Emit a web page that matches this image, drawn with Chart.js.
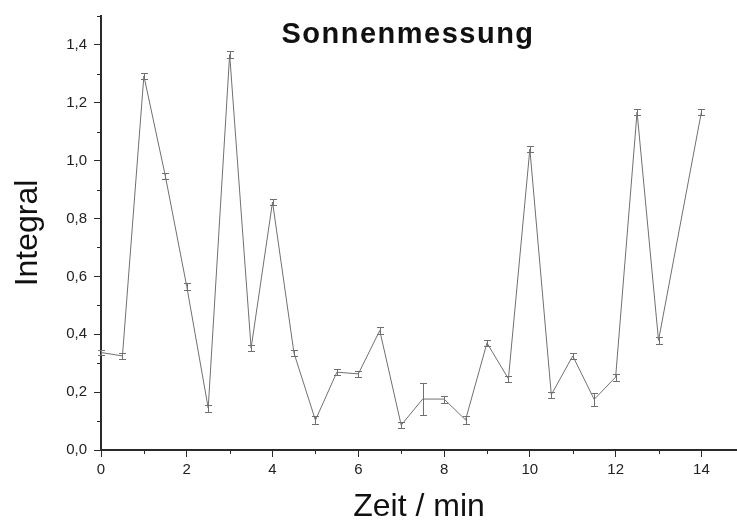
<!DOCTYPE html>
<html lang="de">
<head>
<meta charset="UTF-8" />
<title>Sonnenmessung</title>
<script src="https://cdn.jsdelivr.net/npm/chart.js@4"></script>
<style>
  body { margin: 0; background: #fff; }
  #wrap { width: 737px; height: 520px; }
</style>
</head>
<body>
<div id="wrap"><canvas id="myChart"></canvas></div>
<script>
// Zeit in min
const times = [0, 0.5, 1, 1.5, 2, 2.5, 3, 3.5, 4, 4.5, 5, 5.5, 6, 6.5, 7, 7.5,
  8, 8.5, 9, 9.5, 10, 10.5, 11, 11.5, 12, 12.5, 13, 14];
// Integral
const integral = [0.337, 0.325, 1.293, 0.947, 0.565, 0.145, 1.367, 0.352, 0.857, 0.335,
  0.103, 0.269, 0.263, 0.413, 0.086, 0.176, 0.176, 0.104, 0.370, 0.246,
  1.040, 0.191, 0.325, 0.175, 0.252, 1.168, 0.379, 1.168];
// Fehler (halbe Balkenlaenge)
const errors = [0.007, 0.011, 0.0115, 0.011, 0.012, 0.012, 0.0115, 0.010, 0.011, 0.010,
  0.013, 0.0115, 0.011, 0.011, 0.010, 0.055, 0.012, 0.014, 0.0115, 0.011,
  0.011, 0.011, 0.011, 0.023, 0.012, 0.011, 0.011, 0.011];

const xTicksMajor = [0, 2, 4, 6, 8, 10, 12, 14];
const yTicksMajor = ['0,0', '0,2', '0,4', '0,6', '0,8', '1,0', '1,2', '1,4'];

const FONT = "'Liberation Sans', Arial, sans-serif";
const AXIS = '#2a2a2a';
const LINE = '#707070';

const isMajorX = v => xTicksMajor.includes(Math.round(v));
const isMajorY = v => Math.round(v * 10) % 2 === 0;

// Fehlerbalken
const errorBars = {
  id: 'errorBars',
  afterDatasetsDraw(chart) {
    const { ctx, scales: { x, y } } = chart;
    ctx.save();
    ctx.strokeStyle = LINE;
    ctx.lineWidth = 1;
    times.forEach((t, i) => {
      const px = Math.round(x.getPixelForValue(t)) + 0.5;
      const top = Math.round(y.getPixelForValue(integral[i] + errors[i])) + 0.5;
      const bot = Math.round(y.getPixelForValue(integral[i] - errors[i])) + 0.5;
      ctx.beginPath();
      ctx.moveTo(px, top); ctx.lineTo(px, bot);
      ctx.moveTo(px - 3.5, top); ctx.lineTo(px + 3.5, top);
      ctx.moveTo(px - 3.5, bot); ctx.lineTo(px + 3.5, bot);
      ctx.stroke();
    });
    ctx.restore();
  }
};

// kleine Zwischenstriche + Titel im Diagramm
const extras = {
  id: 'extras',
  afterDraw(chart) {
    const { ctx, chartArea, scales: { x, y } } = chart;
    ctx.save();
    ctx.strokeStyle = AXIS;
    ctx.lineWidth = 1;
    ctx.beginPath();
    x.ticks.forEach(t => {
      if (isMajorX(t.value)) return;
      const px = Math.round(x.getPixelForValue(t.value)) + 0.5;
      ctx.moveTo(px, chartArea.bottom); ctx.lineTo(px, chartArea.bottom + 4);
    });
    y.ticks.forEach(t => {
      if (isMajorY(t.value)) return;
      const py = Math.round(y.getPixelForValue(t.value)) + 0.5;
      ctx.moveTo(chartArea.left, py); ctx.lineTo(chartArea.left - 4, py);
    });
    ctx.stroke();

    ctx.fillStyle = '#111';
    ctx.font = 'bold 29px ' + FONT;
    ctx.letterSpacing = '1.5px';
    ctx.textAlign = 'center';
    ctx.textBaseline = 'alphabetic';
    ctx.fillText('Sonnenmessung', 408, 43);
    ctx.restore();
  }
};

const ctx = document.getElementById('myChart').getContext('2d');
new Chart(ctx, {
  type: 'line',
  data: {
    datasets: [{
      data: times.map((t, i) => ({ x: t, y: integral[i] })),
      borderColor: LINE,
      borderWidth: 1,
      pointRadius: 0,
      tension: 0,
      fill: false
    }]
  },
  options: {
    responsive: true,
    maintainAspectRatio: false,
    animation: false,
    layout: { padding: { top: 15, right: 0, left: 0, bottom: 0 } },
    plugins: { legend: { display: false }, tooltip: { enabled: false } },
    scales: {
      x: {
        type: 'linear',
        min: 0,
        max: 14.83,
        afterFit(scale) { scale.height = 70; },
        border: { color: AXIS, width: 2 },
        grid: {
          drawOnChartArea: false,
          tickLength: 7,
          tickWidth: 1,
          tickColor: c => isMajorX(c.tick.value) ? AXIS : 'rgba(0,0,0,0)'
        },
        ticks: {
          stepSize: 1,
          includeBounds: false,
          autoSkip: false,
          maxRotation: 0,
          padding: 4,
          color: '#222',
          font: { family: FONT, size: 15 },
          callback: v => isMajorX(v) ? String(Math.round(v)) : ''
        },
        title: {
          display: true,
          text: 'Zeit / min',
          color: '#111',
          font: { family: FONT, size: 32, lineHeight: 0.8 },
          padding: { top: 0, bottom: 0 }
        }
      },
      y: {
        min: 0,
        max: 1.5,
        afterFit(scale) { scale.width = 101; },
        border: { color: AXIS, width: 2 },
        grid: {
          drawOnChartArea: false,
          tickLength: 7,
          tickWidth: 1,
          tickColor: c => isMajorY(c.tick.value) ? AXIS : 'rgba(0,0,0,0)'
        },
        ticks: {
          stepSize: 0.1,
          autoSkip: false,
          padding: 7,
          color: '#222',
          font: { family: FONT, size: 15 },
          callback: v => isMajorY(v) ? yTicksMajor[Math.round(v * 5)] : ''
        },
        title: {
          display: true,
          text: 'Integral',
          color: '#111',
          font: { family: FONT, size: 32, lineHeight: 1 },
          padding: { top: 12, bottom: 0 }
        }
      }
    }
  },
  plugins: [errorBars, extras]
});
</script>
</body>
</html>
